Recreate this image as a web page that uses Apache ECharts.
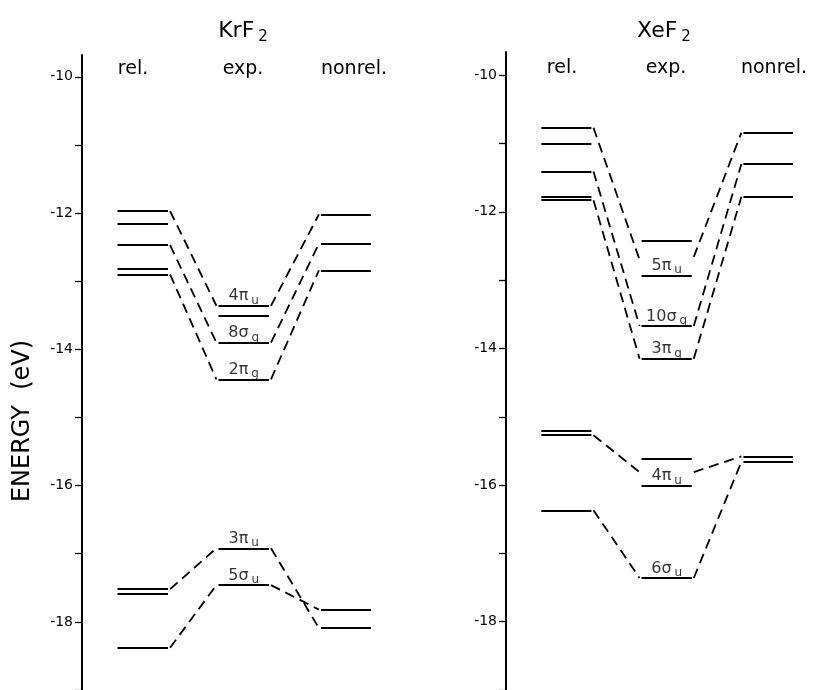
<!DOCTYPE html>
<html><head><meta charset="utf-8">
<script src="https://cdn.jsdelivr.net/npm/echarts@6/dist/echarts.min.js"></script>
<style>html,body{margin:0;padding:0;background:#fff}#c{width:813px;height:690px}</style>
</head><body><div id="c"></div>
<script>
// ---------- data ----------
const yTickValues = [-19, -18, -17, -16, -15, -14, -13, -12, -11, -10];
const yLabelValues = [-18, -16, -14, -12, -10];
const columnNames = ['rel.', 'exp.', 'nonrel.'];
const panelTitles = ['KrF', 'XeF'];
const panelTitleSub = ['2', '2'];
const axisName = 'ENERGY  (eV)';

// KrF2 levels (eV)
const krfRel = [-11.97, -12.16, -12.47, -12.81, -12.90, -17.52, -17.58, -18.38];
const krfExp = [-13.36, -13.51, -13.90, -14.44, -16.92, -17.46];
const krfNonrel = [-12.02, -12.45, -12.84, -17.82, -18.09];
const krfRelToExp = [[-11.97, -13.36], [-12.47, -13.90], [-12.90, -14.44], [-17.52, -16.92], [-18.38, -17.46]];
const krfExpToNonrel = [[-13.36, -12.02], [-13.90, -12.45], [-14.44, -12.84], [-16.92, -18.09], [-17.46, -17.82]];
const krfLabelMain = ['4π', '8σ', '2π', '3π', '5σ'];
const krfLabelSub = ['u', 'g', 'g', 'u', 'u'];
const krfLabelLevel = [-13.36, -13.90, -14.44, -16.92, -17.46];

// XeF2 levels (eV)
const xeRel = [-10.77, -11.01, -11.41, -11.78, -11.83, -15.21, -15.27, -16.37];
const xeExp = [-12.42, -12.93, -13.67, -14.15, -15.62, -16.01, -17.36];
const xeNonrel = [-10.84, -11.30, -11.78, -15.58, -15.66];
const xeRelToExp = [[-10.77, -12.70], [-11.41, -13.67], [-11.83, -14.15], [-15.27, -15.81], [-16.37, -17.36]];
const xeExpToNonrel = [[-12.66, -10.84], [-13.67, -11.30], [-14.15, -11.78], [-15.81, -15.58], [-17.36, -15.66]];
const xeLabelMain = ['5π', '10σ', '3π', '4π', '6σ'];
const xeLabelSub = ['u', 'g', 'g', 'u', 'u'];
const xeLabelLevel = [-12.93, -13.67, -14.15, -16.01, -17.36];

// ---------- layout ----------
const COL = { rel: [0.69, 1.67], exp: [2.65, 3.63], nonrel: [4.64, 5.61] };
const FONT = 'DejaVu Sans';

function levelData(values, col) {
  return values.map(v => ({ coords: [[col[0], v], [col[1], v]] }));
}
function linkData(pairs, from, to) {
  return pairs.map(p => ({ coords: [[from[1] + 0.04, p[0]], [to[0] - 0.04, p[1]]] }));
}
function panelSeries(idx, rel, exp, nonrel, r2e, e2n, lMain, lSub, lLevel) {
  const base = { coordinateSystem: 'cartesian2d', xAxisIndex: idx, yAxisIndex: idx, silent: true };
  return [
    Object.assign({ type: 'lines', z: 3,
      data: [].concat(levelData(rel, COL.rel), levelData(exp, COL.exp), levelData(nonrel, COL.nonrel)),
      lineStyle: { color: '#000', width: 2, type: 'solid', opacity: 1, curveness: 0 } }, base),
    Object.assign({ type: 'lines', z: 2,
      data: [].concat(linkData(r2e, COL.rel, COL.exp), linkData(e2n, COL.exp, COL.nonrel)),
      lineStyle: { color: '#000', width: 1.8, type: [10, 6], opacity: 1, curveness: 0 } }, base),
    Object.assign({ type: 'scatter', z: 4, symbol: 'circle', symbolSize: 1,
      itemStyle: { color: 'rgba(0,0,0,0)' },
      data: lLevel.map((v, i) => ({ value: [(COL.exp[0] + COL.exp[1]) / 2, v], main: lMain[i], sub: lSub[i] })),
      label: { show: true, position: 'top', distance: 0, color: '#000', fontSize: 16, fontFamily: FONT,
        formatter: p => '{m|' + p.data.main + '}{s|' + p.data.sub + '}',
        rich: {
          m: { fontFamily: FONT, fontSize: 16, color: '#000', lineHeight: 18 },
          s: { fontFamily: FONT, fontSize: 12, color: '#000', lineHeight: 12, padding: [9, 0, 0, 3] }
        } } }, base)
  ];
}

function yAxisOf(idx, max) {
  return {
    type: 'value', gridIndex: idx, min: -19, max: max, interval: 1,
    axisLine: { show: true, lineStyle: { color: '#000', width: 2 } },
    axisTick: { show: true, inside: false, length: 7, customValues: yTickValues, lineStyle: { color: '#000', width: 1.3 } },
    axisLabel: { show: true, margin: 9, color: '#000', fontFamily: FONT, fontSize: 14,
      customValues: yLabelValues,
      formatter: v => (Math.abs(v % 2) < 1e-6 ? '{t|' + v + '}' : ''),
      rich: { t: { fontFamily: FONT, fontSize: 14, color: '#000' } } },
    splitLine: { show: false }
  };
}
function xAxisOf(idx) {
  return { type: 'value', gridIndex: idx, min: 0, max: 6, show: false };
}

const titleRich = {
  a: { fontFamily: FONT, fontSize: 22, fill: '#000', lineHeight: 25 },
  b: { fontFamily: FONT, fontSize: 15, fill: '#000', lineHeight: 15, padding: [12, 0, 0, 4] }
};
function headerTexts(xs, y) {
  return columnNames.map((t, i) => ({
    type: 'text', x: xs[i], y: y,
    style: { text: t, fontFamily: FONT, fontSize: 19, fill: '#000', align: 'center', verticalAlign: 'middle' }
  }));
}

const chart = echarts.init(document.getElementById('c'), null, { renderer: 'canvas' });
chart.setOption({
  backgroundColor: '#fff',
  animation: false,
  grid: [
    { left: 82, top: 55, width: 309, height: 636 },
    { left: 506, top: 52, width: 309, height: 638 }
  ],
  xAxis: [xAxisOf(0), xAxisOf(1)],
  yAxis: [yAxisOf(0, -9.68), yAxisOf(1, -9.66)],
  graphic: [
    { type: 'text', x: 243, y: 31,
      style: { text: '{a|' + panelTitles[0] + '}{b|' + panelTitleSub[0] + '}', rich: titleRich, align: 'center', verticalAlign: 'middle' } },
    { type: 'text', x: 664, y: 31,
      style: { text: '{a|' + panelTitles[1] + '}{b|' + panelTitleSub[1] + '}', rich: titleRich, align: 'center', verticalAlign: 'middle' } },
    { type: 'text', x: 23, y: 421, rotation: Math.PI / 2,
      style: { text: axisName, fontFamily: FONT, fontSize: 24, fill: '#000', align: 'center', verticalAlign: 'middle' } }
  ].concat(headerTexts([133, 243, 354], 69), headerTexts([562, 666, 774], 68)),
  series: [].concat(
    panelSeries(0, krfRel, krfExp, krfNonrel, krfRelToExp, krfExpToNonrel, krfLabelMain, krfLabelSub, krfLabelLevel),
    panelSeries(1, xeRel, xeExp, xeNonrel, xeRelToExp, xeExpToNonrel, xeLabelMain, xeLabelSub, xeLabelLevel)
  )
});
</script></body></html>
